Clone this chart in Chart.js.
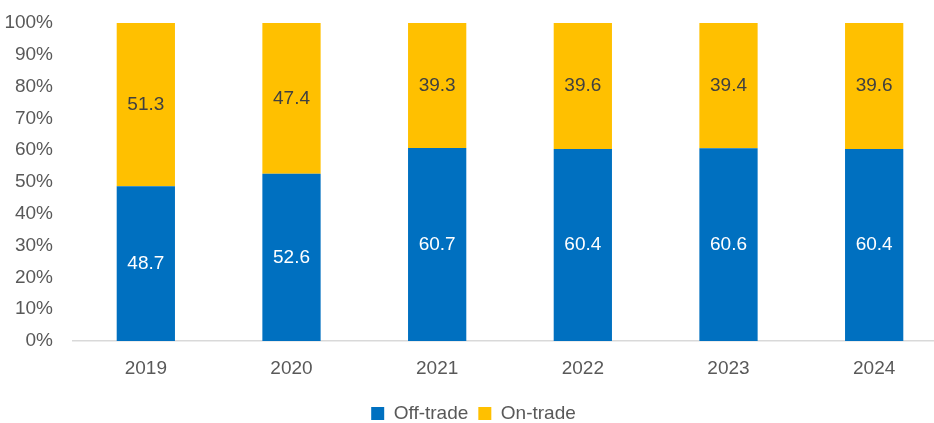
<!DOCTYPE html>
<html>
<head>
<meta charset="utf-8">
<script src="https://cdn.jsdelivr.net/npm/chart.js@4"></script>
<style>
  html, body { margin: 0; padding: 0; background: #fff; overflow: hidden; }
  .wrap { width: 947px; height: 433px; position: relative; }
</style>
</head>
<body>
<div class="wrap"><canvas id="share-chart"></canvas></div>
<script>
const years = ['2019', '2020', '2021', '2022', '2023', '2024'];
const offTrade = [48.7, 52.6, 60.7, 60.4, 60.6, 60.4];
const onTrade = [51.3, 47.4, 39.3, 39.6, 39.4, 39.6];
const yTicks = [0, 10, 20, 30, 40, 50, 60, 70, 80, 90, 100];

const FONT = '"Liberation Sans", Arial, sans-serif';
const GREY = '#595959';

// value labels in the middle of each segment
const segmentLabels = {
  id: 'segmentLabels',
  afterDatasetsDraw(chart) {
    const ctx = chart.ctx;
    ctx.save();
    ctx.font = '19px ' + FONT;
    ctx.textAlign = 'center';
    ctx.textBaseline = 'middle';
    chart.data.datasets.forEach((ds, i) => {
      const meta = chart.getDatasetMeta(i);
      meta.data.forEach((bar, j) => {
        const mid = (bar.y + bar.base) / 2;
        ctx.fillStyle = i === 0 ? '#ffffff' : '#404040';
        ctx.fillText(ds.data[j].toFixed(1), bar.x, mid);
      });
    });
    ctx.restore();
  }
};

const ctxBar = document.getElementById('share-chart').getContext('2d');
new Chart(ctxBar, {
  type: 'bar',
  data: {
    labels: years,
    datasets: [{
      label: 'Off-trade',
      data: offTrade,
      backgroundColor: '#0070C0',
      barPercentage: 0.4,
      categoryPercentage: 1
    }, {
      label: 'On-trade',
      data: onTrade,
      backgroundColor: '#FFC000',
      barPercentage: 0.4,
      categoryPercentage: 1
    }]
  },
  options: {
    responsive: true,
    maintainAspectRatio: false,
    animation: false,
    layout: {
      padding: { left: 0, top: 23, right: 0, bottom: 0 }
    },
    scales: {
      x: {
        stacked: true,
        afterFit: axis => {
          axis.height = 53;
        },
        grid: { display: false, drawTicks: false },
        border: { color: '#d9d9d9', width: 1.5 },
        ticks: { color: GREY, font: { family: FONT, size: 19 }, padding: 16 }
      },
      y: {
        stacked: true,
        min: 0,
        max: 100,
        afterBuildTicks: axis => {
          axis.ticks = yTicks.map(v => ({ value: v }));
        },
        afterFit: axis => {
          axis.width = 73;
          axis.paddingTop = 0;
          axis.paddingBottom = 0;
        },
        grid: { display: false, drawTicks: false },
        border: { display: false },
        ticks: {
          color: GREY,
          font: { family: FONT, size: 19 },
          padding: 20,
          callback: v => v + '%'
        }
      }
    },
    plugins: {
      legend: {
        position: 'bottom',
        labels: {
          color: GREY,
          font: { family: FONT, size: 19 },
          boxWidth: 13,
          boxHeight: 13,
          padding: 10,
          useBorderRadius: false
        }
      },
      tooltip: { enabled: false }
    }
  },
  plugins: [segmentLabels]
});
</script>
</body>
</html>
